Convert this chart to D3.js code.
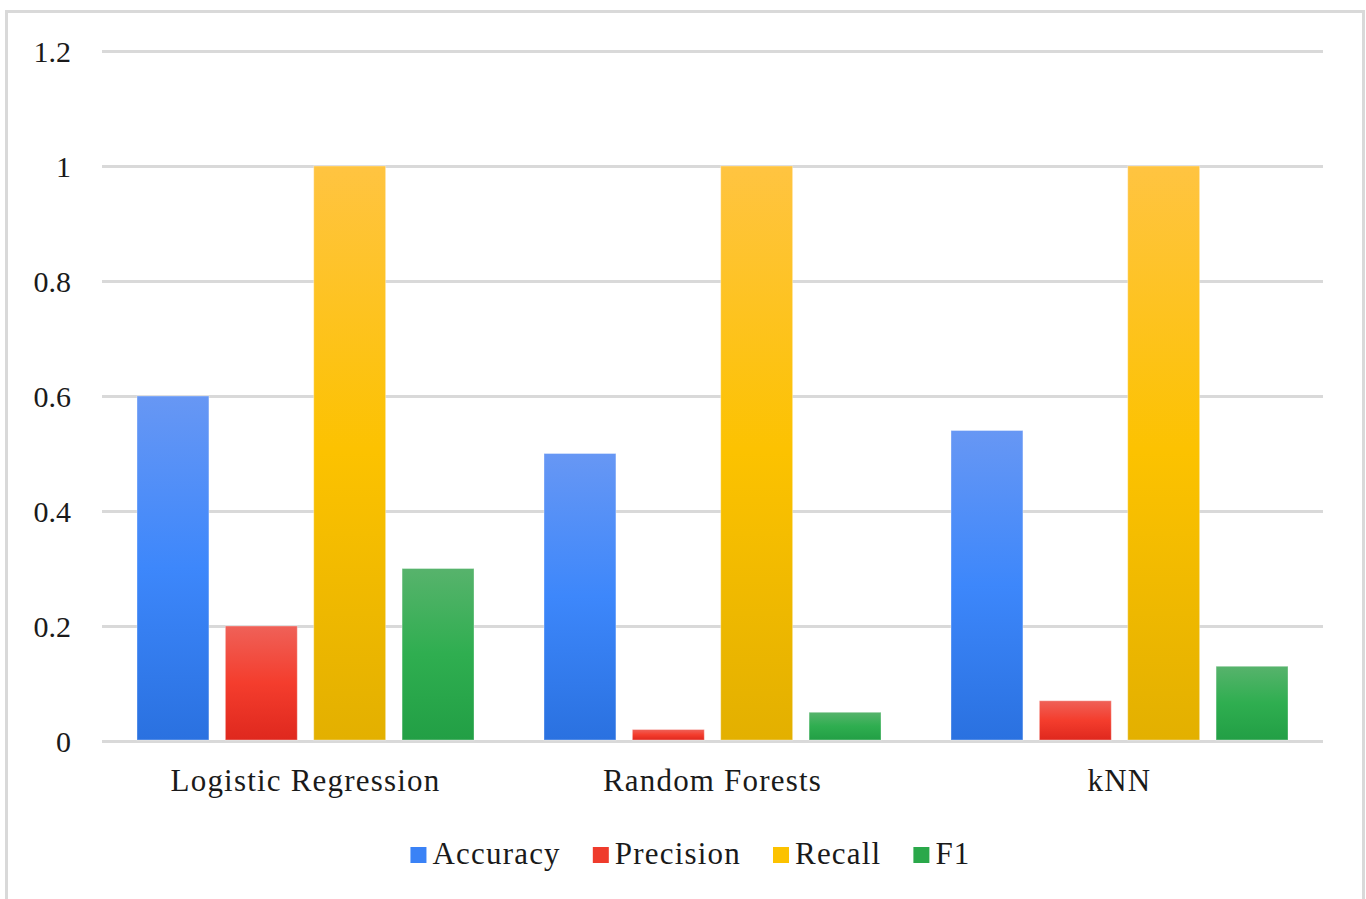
<!DOCTYPE html>
<html>
<head>
<meta charset="utf-8">
<script src="https://cdn.jsdelivr.net/npm/d3@7"></script>
<style>
  html, body { margin: 0; padding: 0; background: #fff; }
  svg { display: block; }
  text { font-family: "Liberation Serif", "Times New Roman", serif; fill: #1a1a1a; }
</style>
</head>
<body>
<svg id="chart" width="1366" height="899"></svg>
<script>
// Model scores per metric
const models = ["Logistic Regression", "Random Forests", "kNN"];
const metrics = ["Accuracy", "Precision", "Recall", "F1"];
const accuracy = [0.6, 0.5, 0.54];
const precision = [0.2, 0.02, 0.07];
const recall = [1.0, 1.0, 1.0];
const f1 = [0.3, 0.05, 0.13];
const yTicks = [0, 0.2, 0.4, 0.6, 0.8, 1, 1.2];

const seriesValues = [accuracy, precision, recall, f1];

// Gradient stops per metric: light top, base middle, darker bottom
const palette = {
  Accuracy:  ["#6797f4", "#3d87fb", "#2a71e0"],
  Precision: ["#ef6158", "#f43d2d", "#df281e"],
  Recall:    ["#ffc441", "#fcc200", "#e3b000"],
  F1:        ["#57b36c", "#2fae50", "#229f45"]
};
const legendColors = {
  Accuracy: "#3a82f6", Precision: "#ef3b2c", Recall: "#fcc200", F1: "#2aa84a"
};

const svg = d3.select("#chart");
const W = 1366, H = 899;

// Outer frame
svg.append("rect")
  .attr("x", 6.5).attr("y", 11.5)
  .attr("width", W - 9).attr("height", H + 20)
  .attr("fill", "#fff")
  .attr("stroke", "#d9d9d9").attr("stroke-width", 3);

const plot = { left: 102, right: 1323, top: 51, bottom: 741 };

const x0 = d3.scaleBand().domain(models).range([plot.left, plot.right]).paddingInner(0).paddingOuter(0);
const x1 = d3.scaleBand().domain(metrics).range([35, x0.bandwidth() - 35]).paddingInner(0.186).paddingOuter(0);
const y = d3.scaleLinear().domain([0, 1.2]).range([plot.bottom, plot.top]);

// Gradients
const defs = svg.append("defs");
metrics.forEach(m => {
  const g = defs.append("linearGradient")
    .attr("id", "grad-" + m)
    .attr("x1", 0).attr("y1", 0).attr("x2", 0).attr("y2", 1);
  g.append("stop").attr("offset", "0%").attr("stop-color", palette[m][0]);
  g.append("stop").attr("offset", "50%").attr("stop-color", palette[m][1]);
  g.append("stop").attr("offset", "100%").attr("stop-color", palette[m][2]);
});

// Gridlines and value labels
const yAxis = d3.axisLeft(y)
  .tickValues(yTicks)
  .tickSize(-(plot.right - plot.left))
  .tickPadding(31)
  .tickFormat(d3.format("~g"));

const gy = svg.append("g")
  .attr("transform", `translate(${plot.left},0)`)
  .call(yAxis)
  .attr("font-family", null);
gy.select(".domain").remove();
gy.selectAll(".tick line").attr("stroke", "#d9d9d9").attr("stroke-width", 3);
gy.selectAll(".tick text")
  .attr("font-size", 30)
  .attr("fill", "#1a1a1a")
  .style("font-family", "'Liberation Serif', 'Times New Roman', serif")
  .attr("dy", "0.34em");

// Bars
const groups = svg.append("g").selectAll("g")
  .data(models)
  .join("g")
  .attr("transform", d => `translate(${x0(d)},0)`);

groups.selectAll("rect")
  .data((d, i) => metrics.map((m, k) => ({ metric: m, value: seriesValues[k][i] })))
  .join("rect")
  .attr("x", d => x1(d.metric))
  .attr("width", x1.bandwidth())
  .attr("y", d => y(d.value))
  .attr("height", d => y(0) - y(d.value) - 1)
  .attr("fill", d => `url(#grad-${d.metric})`)
  .attr("stroke", "rgba(255,255,255,0.35)")
  .attr("stroke-width", 1);

// Category labels
const gx = svg.append("g")
  .attr("transform", `translate(0,${plot.bottom})`)
  .call(d3.axisBottom(x0).tickSize(0).tickPadding(0))
  .attr("font-family", null);
gx.select(".domain").remove();
gx.selectAll(".tick text")
  .attr("y", 50)
  .attr("dy", 0)
  .attr("font-size", 31)
  .attr("letter-spacing", "1.2px")
  .attr("fill", "#1a1a1a")
  .style("font-family", "'Liberation Serif', 'Times New Roman', serif");

// Legend
const legend = svg.append("g");
let cursor = 0;
metrics.forEach(m => {
  const item = legend.append("g").attr("transform", `translate(${cursor},0)`);
  item.append("rect")
    .attr("x", 0).attr("y", -17)
    .attr("width", 16).attr("height", 16)
    .attr("fill", legendColors[m]);
  const t = item.append("text")
    .attr("x", 22).attr("y", 0)
    .attr("font-size", 31)
    .attr("letter-spacing", "1.2px")
    .text(m);
  cursor += 22 + t.node().getComputedTextLength() + 32;
});
const legendWidth = cursor - 32;
legend.attr("transform", `translate(${690.5 - legendWidth / 2},864)`);
</script>
</body>
</html>
